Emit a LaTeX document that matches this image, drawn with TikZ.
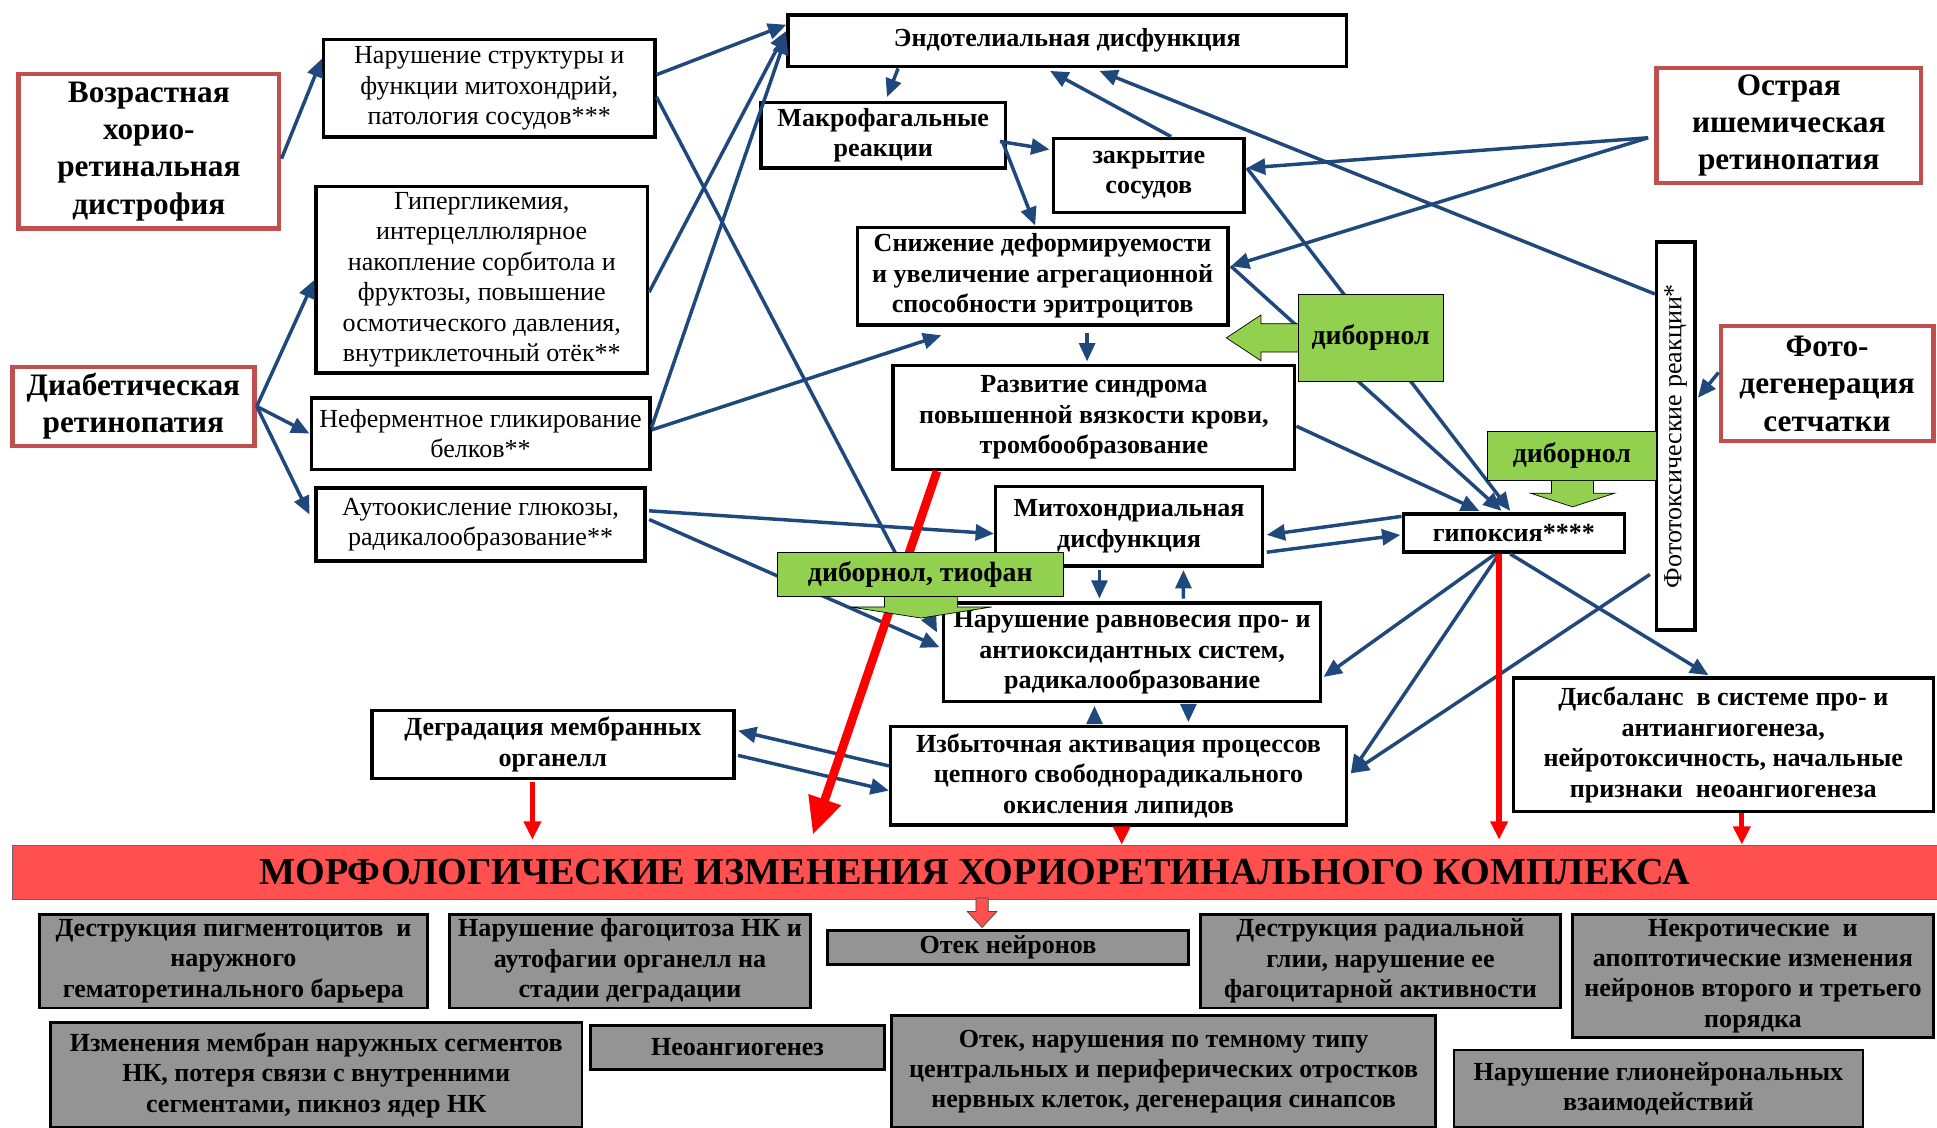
\documentclass[tikz,border=0pt]{standalone}
\usepackage{fontspec}
\setmainfont{Liberation Serif}
\usetikzlibrary{arrows.meta,calc}
\definecolor{arrblue}{RGB}{31,73,125}
\definecolor{frame}{RGB}{192,80,77}
\definecolor{pill}{RGB}{146,208,80}
\definecolor{band}{RGB}{255,80,80}
\begin{document}
\begin{tikzpicture}[x=0.025cm, y=-0.025cm, thick,
		box/.style={draw, line width=2pt, fill=white, align=center, inner sep=1pt, font=\fontsize{15}{17.5}\selectfont},
		bbox/.style={box, font=\fontsize{15}{17.5}\selectfont\bfseries},
		cause/.style={draw=frame, line width=2.6pt, fill=white, align=center, inner sep=1pt, font=\fontsize{18}{21.5}\selectfont\bfseries},
		grey/.style={draw, line width=1.6pt, fill=black!42, align=center, inner sep=1pt, font=\fontsize{15}{17.5}\selectfont\bfseries},
		drug/.style={draw, thin, fill=pill, align=center, inner sep=1pt, font=\fontsize{16}{19}\selectfont\bfseries},
		drugarrow/.style={fill=pill, draw, thin, line join=miter},
		arr/.style={draw=arrblue, line width=2pt, -{Triangle[length=0.37cm,width=0.32cm]}},
		redarr/.style={draw=red, line width=3pt, -{Triangle[length=0.37cm,width=0.34cm]}}]
	\useasboundingbox (0,0) rectangle (1568,913);

	\node[cause, minimum width=5.275cm, minimum height=3.125cm] (vozr) at (120.5,122.5) {Возрастная\\хорио-\\ретинальная\\дистрофия};
	\node[box, minimum width=6.7cm, minimum height=1.975cm] (narstr) at (396,71.5) {Нарушение структуры и\\функции митохондрий,\\патология сосудов***};
	\node[bbox, minimum width=11.3cm, minimum height=1.05cm] (endo) at (864,33) {Эндотелиальная дисфункция};
	\node[bbox, minimum width=4.95cm, minimum height=1.325cm] (makro) at (715,109.5) {Макрофагальные\\реакции};
	\node[bbox, minimum width=3.85cm, minimum height=1.5cm] (zakr) at (930,142) {закрытие\\сосудов};
	\node[bbox, minimum width=7.5cm, minimum height=1.975cm] (snizh) at (844,223.5) {Снижение деформируемости\\и увеличение агрегационной\\способности эритроцитов};
	\node[cause, minimum width=5.35cm, minimum height=2.325cm] (ostr) at (1448,101.5) {Острая\\ишемическая\\ретинопатия};
	\node[box, minimum width=6.7cm, minimum height=3.775cm] (gipergl) at (390,226.5) {Гипергликемия,\\интерцеллюлярное\\накопление сорбитола и\\фруктозы, повышение\\осмотического давления,\\внутриклеточный отёк**};
	\node[cause, minimum width=4.9cm, minimum height=1.6cm] (diab) at (108,329) {Диабетическая\\ретинопатия};
	\node[box, minimum width=6.85cm, minimum height=1.45cm] (neferm) at (389,351) {Неферментное гликирование\\белков**};
	\node[box, minimum width=6.65cm, minimum height=1.475cm] (auto) at (389,424.5) {Аутоокисление глюкозы,\\радикалообразование**};
	\node[bbox, minimum width=8.125cm, minimum height=2.1cm] (razv) at (885.5,338) {Развитие синдрома\\повышенной вязкости крови,\\тромбообразование};
	\node[box, minimum width=0.775cm, minimum height=7.85cm] (foto) at (1356.5,353) {};
	\node[rotate=90, font=\fontsize{15}{17}\selectfont] (fotolbl) at (foto.center) {Фототоксические реакции*};
	\node[cause, minimum width=4.3cm, minimum height=2.325cm] (fotodeg) at (1479,310.5) {Фото-\\дегенерация\\сетчатки};
	\node[bbox, minimum width=4.475cm, minimum height=0.775cm] (gipox) at (1225.5,431.5) {гипоксия****};
	\node[bbox, minimum width=5.4cm, minimum height=1.6cm] (mitodys) at (914,426) {Митохондриальная\\дисфункция};
	\node[bbox, minimum width=7.625cm, minimum height=2cm] (narrav) at (916.5,528) {Нарушение равновесия про- и\\антиоксидантных систем,\\радикалообразование};
	\node[bbox, minimum width=7.325cm, minimum height=1.375cm] (degr) at (447.5,602.5) {Деградация мембранных\\органелл};
	\node[bbox, minimum width=9.225cm, minimum height=2cm] (izb) at (905.5,628) {Избыточная активация процессов\\цепного свободнорадикального\\окисления липидов};
	\node[bbox, minimum width=8.5cm, minimum height=2.7cm] (disb) at (1395,603) {Дисбаланс \ в системе про- и\\антиангиогенеза,\\нейротоксичность, начальные\\признаки \ неоангиогенеза};
	\node[draw=black!60, thin, fill=band, minimum width=38.95cm, minimum height=1.1cm, font=\fontsize{22}{26}\selectfont\bfseries] (morph) at (789,706) {МОРФОЛОГИЧЕСКИЕ ИЗМЕНЕНИЯ ХОРИОРЕТИНАЛЬНОГО КОМПЛЕКСА};

	\node[grey, minimum width=7.85cm, minimum height=1.9cm] (gr1) at (189,778) {Деструкция пигментоцитов \ и\\наружного\\гематоретинального барьера};
	\node[grey, minimum width=7.3cm, minimum height=1.9cm] (gr2) at (510,778) {Нарушение фагоцитоза НК и\\аутофагии органелл на\\стадии деградации};
	\node[grey, minimum width=7.3cm, minimum height=0.7cm] (gr3) at (816,767) {Отек нейронов};
	\node[grey, minimum width=7.275cm, minimum height=1.9cm] (gr4) at (1117.5,778) {Деструкция радиальной\\глии, нарушение ее\\фагоцитарной активности};
	\node[grey, minimum width=7.3cm, minimum height=2.5cm] (gr5) at (1419,790) {Некротические \ и\\апоптотические изменения\\нейронов второго и третьего\\порядка};
	\node[grey, minimum width=10.75cm, minimum height=2.125cm] (gr6) at (256,870.5) {Изменения мембран наружных сегментов\\НК, потеря связи с внутренними\\сегментами, пикноз ядер НК};
	\node[grey, minimum width=5.95cm, minimum height=0.9cm] (gr7) at (597,848) {Неоангиогенез};
	\node[grey, minimum width=11cm, minimum height=2.275cm] (gr8) at (942,867.5) {Отек, нарушения по темному типу\\центральных и периферических отростков\\нервных клеток, дегенерация синапсов};
	\node[grey, minimum width=8.275cm, minimum height=1.575cm] (gr9) at (1342.5,881.5) {Нарушение глионейрональных\\взаимодействий};

	\draw[arr] ($(vozr.east)+(0,6)$) -- ($(narstr.west)+(0,-24)$);
	\draw[arr] ($(narstr.east)+(0,-11)$) -- ($(endo.west)+(0,-13)$);
	\draw[arr] ($(narstr.east)+(0,7)$) -- ($(narrav.west)+(-4,-16)$);
	\draw[arr] ($(gipergl.east)+(0,10)$) -- ($(endo.west)+(0,-8)$);
	\draw[arr] ($(neferm.east)+(0,-5)$) -- ($(endo.west)+(0,-4)$);
	\draw[arr] ($(neferm.east)+(0,-3)$) -- ($(snizh.south)+(-82,7)$);
	\draw[arr] (diab.east) -- (gipergl.west);
	\draw[arr] (diab.east) -- (neferm.west);
	\draw[arr] (diab.east) -- ($(auto.west)+(-4,-8)$);
	\draw[arr] ($(auto.east)+(2,-11)$) -- ($(mitodys.west)+(0,6)$);
	\draw[arr] ($(auto.east)+(2,-4)$) -- ($(narrav.west)+(-2,-4)$);

	\draw[arr] ($(endo.south)+(-137,0)$) -- ($(makro.north)+(3,-3)$);
	\draw[arr] ($(makro.east)+(-6,5)$) -- ($(zakr.west)+(-2,-21)$);
	\draw[arr] ($(makro.east)+(-4,5)$) -- ($(snizh.north)+(-6,0)$);
	\draw[arr] ($(zakr.north)+(18,0)$) -- ($(endo.south)+(-14,2)$);
	\draw[arr] ($(foto.west)+(0,-115)$) -- ($(endo.south)+(26,2)$);
	\draw[arr] ($(ostr.west)+(-5,10)$) -- ($(zakr.east)+(1,-6)$);
	\draw[arr] ($(ostr.west)+(-5,10)$) -- ($(snizh.east)+(1,-8)$);
	\draw[arr] ($(zakr.east)+(1,-6)$) -- ($(gipox.north)+(-3,-1)$);
	\draw[arr] ($(snizh.east)+(1,-8)$) -- ($(gipox.north)+(-10,-1)$);
	\draw[arr] ($(razv.east)+(0,7)$) -- ($(gipox.north)+(-28,-1)$);
	\draw[arr] ($(snizh.south)+(36,5)$) -- ($(razv.north)+(-5.5,-2)$);

	\draw[arr] ($(gipox.west)+(0,-13.5)$) -- ($(mitodys.east)+(2,7)$);
	\draw[arr] ($(mitodys.east)+(2,21)$) -- ($(gipox.west)+(-1,1.5)$);
	\draw[arr] ($(mitodys.south)+(-24,2)$) -- ($(narrav.north)+(-26.5,-2)$);
	\draw[arr] ($(narrav.north)+(41.5,-2)$) -- ($(mitodys.south)+(44,2)$);
	\draw[arr] ($(izb.north)+(-19.5,-2)$) -- ($(narrav.south)+(-30.5,2)$);
	\draw[arr] ($(narrav.south)+(45.5,2)$) -- ($(izb.north)+(56.5,-2)$);

	\draw[arr] ($(gipox.south)+(-15,0)$) -- ($(narrav.east)+(1,20)$);
	\draw[arr] ($(gipox.south)+(-12,0)$) -- ($(izb.east)+(2,-2)$);
	\draw[arr] ($(gipox.south)+(-3,0)$) -- ($(disb.north)+(-12,-1)$);
	\draw[arr] ($(foto.west)+(-4,112)$) -- ($(izb.east)+(2,-2)$);
	\draw[arr] ($(fotodeg.west)+(0,-9)$) -- ($(foto.east)+(1,-31)$);
	\draw[arr] ($(izb.west)+(0,-8)$) -- ($(degr.east)+(2,-11)$);
	\draw[arr] ($(degr.east)+(2,9)$) -- ($(izb.west)+(0,12)$);

	\draw[redarr, line width=5pt, -{Triangle[length=0.75cm,width=0.65cm]}] ($(razv.south)+(-127,0)$) -- ($(morph.north)+(-131,-8)$);
	\draw[redarr] ($(degr.south)+(-16.5,2)$) -- ($(morph.north)+(-358,-4)$);
	\draw[redarr] ($(gipox.south)+(-12,0)$) -- ($(morph.north)+(424.5,-4)$);
	\draw[redarr] ($(izb.south)+(2.5,0)$) -- ($(morph.north)+(119,0)$);
	\draw[redarr] ($(disb.south)+(15,0)$) -- ($(morph.north)+(621,0)$);
	\draw[fill=band, draw=black!70, thin] ($(gr3.north)+(-26,-25)$) -- ++(10,0) -- ++(0,11) -- ++(7,0) -- ++(-12,13) -- ++(-12,-13) -- ++(7,0) -- cycle;

	\node[drug, minimum width=2.925cm, minimum height=1.775cm] (dib1) at (1109.5,273.5) {диборнол};
	\draw[drugarrow] ($(dib1.west)+(0,-11.5)$) -- ++(-30,0) -- ++(0,-7) -- ++(-28,18.5) -- ++(28,18.5) -- ++(0,-7) -- ++(30,0);
	\node[drug, minimum width=3.425cm, minimum height=1cm] (dib2) at (1272.5,369) {диборнол};
	\draw[drugarrow] ($(dib2.south)+(-16.5,0)$) -- ++(0,10) -- ++(-17,0) -- ++(34,11) -- ++(34,-11) -- ++(-17,0) -- ++(0,-10);
	\node[drug, minimum width=5.8cm, minimum height=0.9cm] (dib3) at (745,465) {диборнол, тиофан};
	\draw[drugarrow] ($(dib3.south)+(-29,0)$) -- ++(0,8) -- ++(-28,0) -- ++(57.5,9) -- ++(57.5,-9) -- ++(-28,0) -- ++(0,-8);

\end{tikzpicture}
\end{document}
